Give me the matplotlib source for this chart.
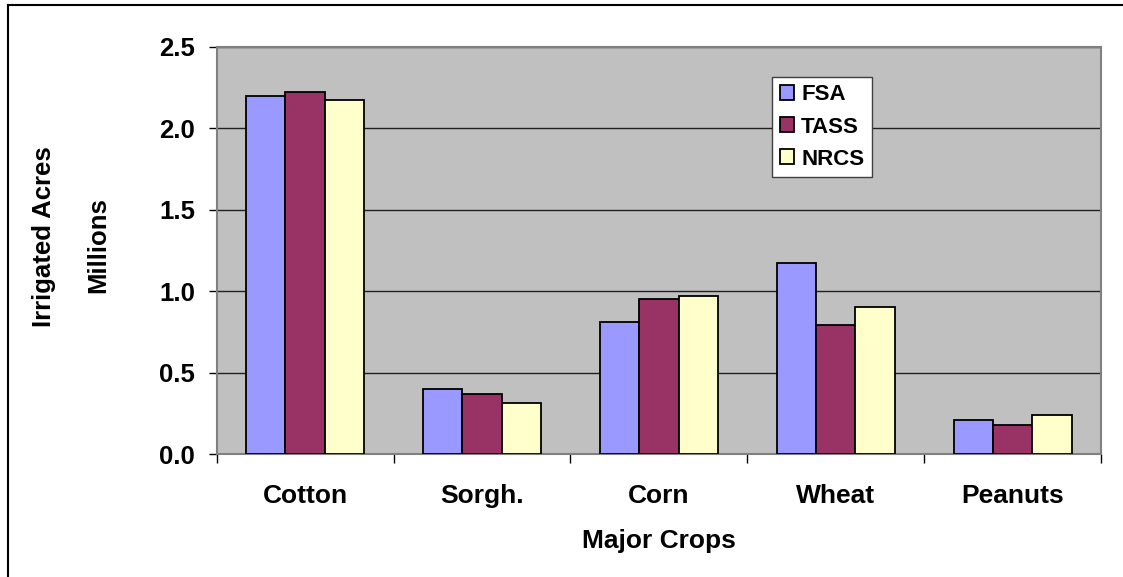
import matplotlib
matplotlib.use('Agg')
import matplotlib.pyplot as plt
import numpy as np
from matplotlib.lines import Line2D

plt.rcParams['font.family'] = ['Liberation Sans', 'DejaVu Sans']
plt.rcParams['font.weight'] = 'bold'

crops = ['Cotton', 'Sorgh.', 'Corn', 'Wheat', 'Peanuts']
fsa = [2.20, 0.40, 0.81, 1.17, 0.21]
tass = [2.22, 0.37, 0.95, 0.79, 0.18]
nrcs = [2.17, 0.31, 0.97, 0.90, 0.24]

series = ['FSA', 'TASS', 'NRCS']
colors = ['#9999FF', '#993366', '#FFFFCC']

W, H = 1123, 577
fig = plt.figure(figsize=(W / 100, H / 100), dpi=100)
ax = fig.add_axes([216.7 / W, 1 - 454 / H, 884.3 / W, 407.3 / H])
ax.set_facecolor('#C0C0C0')

x = np.arange(len(crops)) + 0.5
w = 1 / 4.5
for i, (vals, name, c) in enumerate(zip([fsa, tass, nrcs], series, colors)):
    ax.bar(x + (i - 1) * w, vals, width=w, color=c, edgecolor='black',
           linewidth=1.3, label=name, zorder=3)

ax.set_xlim(0, len(crops))
ax.set_ylim(0, 2.5)
ax.set_yticks(np.arange(0, 2.51, 0.5))
ax.set_yticklabels(['%.1f' % v for v in np.arange(0, 2.51, 0.5)])
ax.yaxis.grid(True, color='#202020', linewidth=1.0, zorder=1)
ax.set_axisbelow(True)

ax.set_xticks(x)
ax.set_xticklabels(crops)
ax.set_xticks(np.arange(len(crops) + 1), minor=True)
ax.tick_params(axis='x', which='major', length=0, pad=21.5, labelsize=19)
ax.tick_params(axis='x', which='minor', length=6.5, width=1, color='black', direction='out')
ax.tick_params(axis='y', length=5.5, width=1, color='black', pad=10, labelsize=18.5)

for s in ax.spines.values():
    s.set_color('#808080')
    s.set_linewidth(1.5)

leg = ax.legend(loc='upper left', bbox_to_anchor=((772 - 216.7) / 884.3, (454 - 76.7) / 407.3),
                borderaxespad=0, fontsize=16, handlelength=0.66, handleheight=0.66,
                handletextpad=0.3, labelspacing=0.5, borderpad=0.35, fancybox=False,
                framealpha=1, edgecolor='#404040', facecolor='white')
leg.get_frame().set_linewidth(1.0)

fig.text(659 / W, 1 - 541 / H, 'Major Crops', ha='center', va='center', fontsize=19)
fig.text(44 / W, 1 - 237 / H, 'Irrigated Acres', ha='center', va='center', rotation=90, fontsize=18.5)
fig.text(98 / W, 1 - 245.5 / H, 'Millions', ha='center', va='center', rotation=90, fontsize=18.5)

# outer border (top and left only)
fig.add_artist(Line2D([8 / W, 1], [1 - 4.5 / H, 1 - 4.5 / H], color='black', linewidth=1.5))
fig.add_artist(Line2D([8 / W, 8 / W], [0, 1 - 4.5 / H], color='black', linewidth=1.5))

fig.savefig('out.png', dpi=100)
